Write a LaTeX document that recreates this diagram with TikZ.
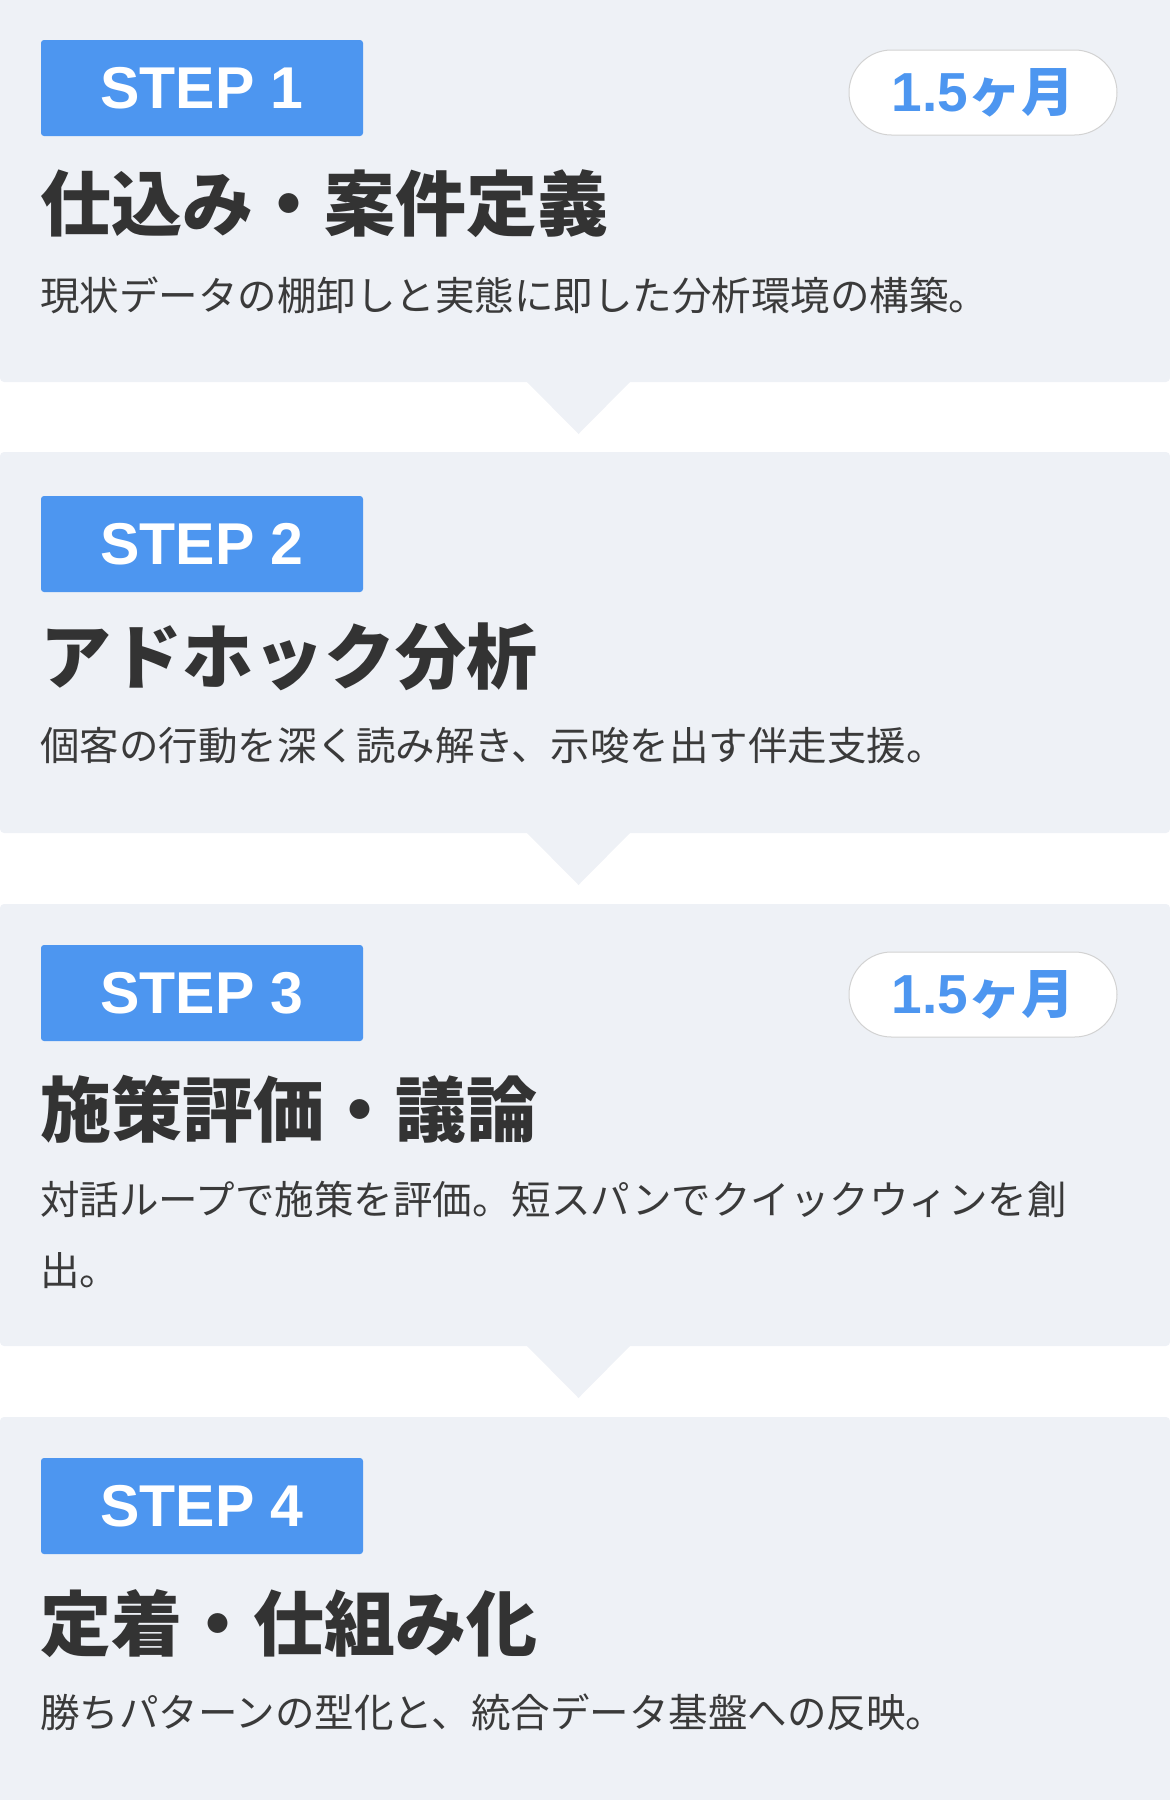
\documentclass[tikz,border=0pt]{standalone}
\usepackage{fontspec}
\usepackage{tikz}
\usetikzlibrary{positioning}
\newfontfamily\jpfont{Noto Sans CJK JP}
\newfontfamily\latinfont{Liberation Sans}
\definecolor{panelbg}{HTML}{EEF1F6}
\definecolor{stepblue}{HTML}{4D96F0}
\definecolor{titlegray}{HTML}{333333}
\definecolor{descgray}{HTML}{3A3A3A}
\definecolor{pillgray}{HTML}{D2D2D2}
\newcommand\stepfont{\latinfont\bfseries\fontsize{59pt}{59pt}\selectfont}
\newcommand\titlefont{\jpfont\bfseries\fontsize{71pt}{71pt}\selectfont}
\newcommand\descfont{\jpfont\fontsize{39.5pt}{71pt}\selectfont}
\newcommand\durtext{{\latinfont\bfseries\fontsize{55pt}{55pt}\selectfont 1.5}{\jpfont\bfseries\fontsize{53pt}{53pt}\selectfont ヶ月}}

\begin{document}
\begin{tikzpicture}[x=1pt,y=-1pt,
  panel/.style={fill=panelbg,rounded corners=4pt},
  stepbox/.style={fill=stepblue,text=white,minimum width=322pt,minimum height=96pt,rounded corners=3pt,inner sep=0pt,font=\stepfont},
  durpill/.style={draw=pillgray,line width=1pt,fill=white,text=stepblue,minimum width=268pt,minimum height=85pt,rounded corners=42.5pt,inner sep=0pt},
  steptitle/.style={anchor=base west,inner sep=0pt,text=titlegray,font=\titlefont},
  stepdesc/.style={anchor=base west,inner sep=0pt,text=descgray,font=\descfont,align=left}]
  \useasboundingbox (0,0) rectangle (1170,1800);

  \fill [panel] (0,-10) rectangle (1170,382);
  \fill [panelbg] (526,381) -- (578.5,434) -- (631,381) -- cycle;
  \fill [panel] (0,452) rectangle (1170,833);
  \fill [panelbg] (526,832) -- (578.5,885) -- (631,832) -- cycle;
  \fill [panel] (0,904) rectangle (1170,1346);
  \fill [panelbg] (526,1345) -- (578.5,1398) -- (631,1345) -- cycle;
  \fill [panel] (0,1417) rectangle (1170,1810);

  \node [stepbox]   (step1)  at (202,88)     {STEP 1};
  \node [durpill]   (dur1)   at (983,92.5)   {\durtext};
  \node [steptitle] (title1) at (40,230)     {仕込み・案件定義};
  \node [stepdesc]  (desc1)  at (40,310)     {現状データの棚卸しと実態に即した分析環境の構築。};

  \node [stepbox]   (step2)  at (202,544)    {STEP 2};
  \node [steptitle] (title2) at (40,683)     {アドホック分析};
  \node [stepdesc]  (desc2)  at (40,760)     {個客の行動を深く読み解き、示唆を出す伴走支援。};

  \node [stepbox]   (step3)  at (202,993)    {STEP 3};
  \node [durpill]   (dur3)   at (983,994.5)  {\durtext};
  \node [steptitle] (title3) at (40,1136)    {施策評価・議論};
  \node [stepdesc]  (desc3)  at (40,1285)    {対話ループで施策を評価。短スパンでクイックウィンを創\\出。};

  \node [stepbox]   (step4)  at (202,1506)   {STEP 4};
  \node [steptitle] (title4) at (40,1650)    {定着・仕組み化};
  \node [stepdesc]  (desc4)  at (40,1727)    {勝ちパターンの型化と、統合データ基盤への反映。};
\end{tikzpicture}
\end{document}
